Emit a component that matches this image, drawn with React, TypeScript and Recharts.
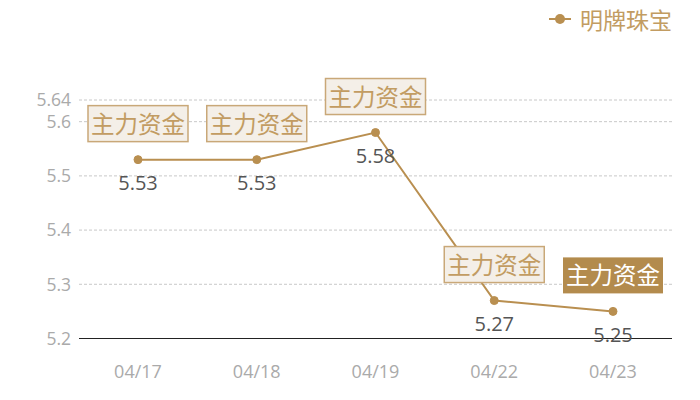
import React, { useEffect } from "react";
import { LineChart, Line, XAxis, YAxis, CartesianGrid, LabelList } from "recharts";

const dates = ["04/17", "04/18", "04/19", "04/22", "04/23"];
const prices = [5.53, 5.53, 5.58, 5.27, 5.25];
const tags = ["主力资金", "主力资金", "主力资金", "主力资金", "主力资金"];
const highlighted = [false, false, false, false, true];
const yTicks = [5.2, 5.3, 5.4, 5.5, 5.6, 5.64];
const gridValues = [5.3, 5.4, 5.5, 5.6, 5.64];
const seriesName = "明牌珠宝";

const data = dates.map((d, i) => ({ date: d, price: prices[i], tag: tags[i], hl: highlighted[i] }));

const GOLD = "#b98f50";
const FONT = '"Open Sans", "Noto Sans CJK SC", sans-serif';

const PointLabel = (props: any) => {
  const { x, y, index } = props;
  const item = data[index];
  if (!item) return null;
  const bw = 100;
  const bh = 36;
  const by = y - 18 - bh;
  return (
    <g>
      <rect
        x={x - bw / 2}
        y={by}
        width={bw}
        height={bh}
        fill={item.hl ? "#b38b4d" : "#f4efe8"}
        stroke={item.hl ? "none" : "#c9a878"}
        strokeWidth={1.5}
      />
      <text
        x={x}
        y={by + bh / 2}
        textAnchor="middle"
        dominantBaseline="central"
        fontSize={23.5}
        fontFamily={FONT}
        fill={item.hl ? "#ffffff" : "#c29c62"}
      >
        {item.tag}
      </text>
      <text
        x={x}
        y={y + 23}
        textAnchor="middle"
        dominantBaseline="central"
        fontSize={20}
        fontFamily={FONT}
        fill="#555555"
      >
        {item.price.toFixed(2)}
      </text>
    </g>
  );
};

export default function App() {
  useEffect(() => {
    document.body.style.margin = "0";
  }, []);
  return (
    <div style={{ position: "relative", width: 700, height: 400, background: "#fff", fontFamily: FONT }}>
      <LineChart width={700} height={400} data={data} margin={{ top: 100, right: 28, bottom: 0, left: 0 }}>
        <CartesianGrid
          horizontal
          vertical={false}
          horizontalValues={gridValues}
          strokeDasharray="3 2"
          stroke="#c8c8c8"
        />
        <XAxis
          dataKey="date"
          padding={{ left: 59, right: 59 }}
          axisLine={{ stroke: "#222222", strokeWidth: 1 }}
          tickLine={false}
          tickMargin={21}
          height={61.5}
          interval={0}
          tick={{ fill: "#aaaaaa", fontSize: 18, fontFamily: FONT }}
        />
        <YAxis
          type="number"
          domain={[5.2, 5.64]}
          ticks={yTicks}
          interval={0}
          width={79}
          axisLine={false}
          tickLine={false}
          tick={{ fill: "#aaaaaa", fontSize: 17.5, fontFamily: FONT }}
        />
        <Line
          type="linear"
          dataKey="price"
          name={seriesName}
          stroke={GOLD}
          strokeWidth={2}
          dot={{ r: 4, fill: GOLD, stroke: GOLD, strokeWidth: 1 }}
          activeDot={false}
          isAnimationActive={false}
        >
          <LabelList dataKey="price" content={<PointLabel />} />
        </Line>
      </LineChart>
      <div
        style={{
          position: "absolute",
          top: 2,
          right: 28,
          display: "flex",
          alignItems: "center",
          gap: 9,
          color: "#c29c62",
          fontSize: 23,
          fontFamily: FONT,
        }}
      >
        <svg width={22} height={12}>
          <line x1={0} y1={6} x2={22} y2={6} stroke={GOLD} strokeWidth={2} />
          <circle cx={11} cy={6} r={5} fill={GOLD} />
        </svg>
        <span>{seriesName}</span>
      </div>
    </div>
  );
}
